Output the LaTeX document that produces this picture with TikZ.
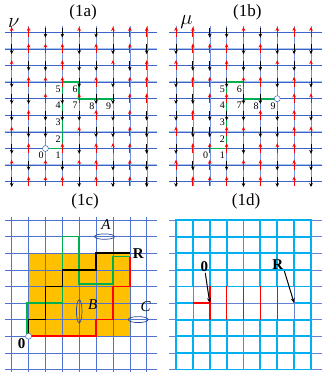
\documentclass[tikz,border=0pt]{standalone}
\usepackage{fontspec}
\setmainfont{Liberation Serif}
\usetikzlibrary{arrows.meta}
\definecolor{gridblue}{RGB}{60,100,200}
\definecolor{gridhalo}{RGB}{170,195,235}
\definecolor{spinred}{RGB}{255,0,0}
\definecolor{pathgreen}{RGB}{0,176,80}
\definecolor{boxorange}{RGB}{255,192,0}
\definecolor{latticecyan}{RGB}{0,176,240}
\definecolor{loopblue}{RGB}{45,75,155}
\tikzset{
  hline/.style={gridblue,line width=0.45pt,preaction={draw=gridhalo,line width=1.4pt}},
  vline/.style={gridblue!70,line width=0.4pt},
  cline/.style={gridblue!90,line width=0.6pt},
  upspin/.style={spinred,line width=0.9pt,-{Stealth[length=4pt,width=3.6pt]}},
  downspin/.style={black,line width=0.9pt,-{Stealth[length=4pt,width=3.6pt]}},
  hole/.style={gridblue,fill=white,line width=0.5pt},
  sitenum/.style={font=\fontsize{10}{10}\selectfont,inner sep=0.5pt,anchor=north east,xshift=-1pt,yshift=-3pt},
  paneltitle/.style={font=\fontsize{17}{17}\selectfont},
  walk/.style={line width=1.5pt},
  loopring/.style={loopblue,line width=0.7pt},
  letter/.style={font=\fontsize{15}{15}\selectfont\itshape},
  boldlabel/.style={font=\fontsize{15}{15}\selectfont\bfseries,inner sep=1pt},
  bond/.style={latticecyan,line width=1.8pt,line cap=rect},
  thinline/.style={gridblue!80,line width=0.5pt},
  cut/.style={spinred,line width=1.5pt},
  pointer/.style={black,line width=1pt,-{Stealth[length=5pt,width=4pt]}},
}
% one arrow per site: 1 up, 0 down, 2 empty
\newcommand{\drawspins}[1]{%
  \foreach \yy/\rowlist in {#1} {
    \foreach \spin [count=\xx from 0] in \rowlist {
      \ifnum\spin=1 \draw[upspin] (\xx,\yy+0.27) -- (\xx,\yy-0.32);\fi
      \ifnum\spin=0 \draw[downspin] (\xx,\yy-0.27) -- (\xx,\yy+0.32);\fi
    }
  }%
}
\begin{document}
\begin{tikzpicture}[x=16.875pt,y=-16.6pt]
  \useasboundingbox (-11.7pt,32.3pt) rectangle (320.3pt,-348.7pt);

  % (1a)
  \foreach \yy in {0,...,9} \draw[hline] (-0.4,\yy) -- (8.6,\yy);
  \foreach \xx in {0,...,8} \draw[vline] (\xx,-0.4) -- (\xx,9.25);
  \coordinate (a0) at (2,7);
  \coordinate (a9) at (6,4);
  \draw[pathgreen,line width=1.6pt] (a0) -- (3,7) -- (3,3) -- (4,3) -- (4,4) -- (a9);
  \drawspins{0/{1,1,0,0,1,0,1,1,1}, 1/{0,1,1,1,0,1,0,1,0}, 2/{1,0,0,1,0,0,1,0,1},
    3/{0,1,1,1,0,1,0,1,1}, 4/{0,0,1,0,1,0,0,1,1}, 5/{0,1,0,0,0,1,0,1,0},
    6/{1,0,0,2,1,0,0,1,0}, 7/{0,1,2,1,0,1,1,1,0}, 8/{1,0,1,0,1,1,0,1,0},
    9/{0,1,1,1,0,1,0,1,0}}
  \draw[hole] (a0) circle (3pt);
  \foreach \xx/\yy/\t in {2/7/0, 3/7/1, 3/6/2, 3/5/3, 3/4/4, 3/3/5, 4/3/6, 4/4/7, 5/4/8, 6/4/9}
    \node[sitenum] at (\xx,\yy) {\t};
  \node[paneltitle] (ta) at (4.23,-1.22) {(1a)};
  \node[font=\fontsize{20}{20}\selectfont] (nu) at (0.12,-0.55) {$\nu$};

  % (1b)
  \begin{scope}[xshift=164.3pt]
    \foreach \yy in {0,...,9} \draw[hline] (-0.4,\yy) -- (8.67,\yy);
    \foreach \xx in {0,...,8} \draw[vline] (\xx,-0.4) -- (\xx,9.25);
    \coordinate (b0) at (2,7);
    \coordinate (b9) at (6,4);
    \draw[pathgreen,line width=1.6pt] (b0) -- (3,7) -- (3,3) -- (4,3) -- (4,4) -- (b9);
    \drawspins{0/{1,1,0,0,1,0,1,1,1}, 1/{0,1,1,1,0,1,0,0,0}, 2/{1,0,0,1,0,0,1,0,1},
      3/{0,1,1,0,1,1,0,1,0}, 4/{0,0,1,1,0,0,2,1,1}, 5/{0,1,0,0,0,1,0,1,0},
      6/{1,0,0,1,1,0,0,1,1}, 7/{0,1,1,1,0,1,1,1,0}, 8/{1,0,1,0,1,1,0,1,0},
      9/{0,1,1,1,0,1,0,1,0}}
    \draw[hole] (b9) circle (3pt);
    \foreach \xx/\yy/\t in {2/7/0, 3/7/1, 3/6/2, 3/5/3, 3/4/4, 3/3/5, 4/3/6, 4/4/7, 5/4/8, 6/4/9}
      \node[sitenum] at (\xx,\yy) {\t};
    \node[paneltitle] (tb) at (4.23,-1.22) {(1b)};
    \node[font=\fontsize{20}{20}\selectfont] (mu) at (0.62,-0.6) {$\mu$};
  \end{scope}

  % (1c)
  \begin{scope}[yshift=-187.7pt]
    \fill[boxorange] (1,2) rectangle (7,7);
    \foreach \yy in {0,...,9} \draw[cline] (-0.4,\yy) -- (8.6,\yy);
    \foreach \xx in {0,...,8} \draw[cline] (\xx,-0.2) -- (\xx,9.15);
    \coordinate (c0) at (1,7);
    \coordinate (cR) at (7,2);
    \draw[walk,pathgreen] (c0) ++(-0.1,0) |- (3,5) |- (4,1) |- (6,3.85) |- (7,2.2);
    \draw[walk,spinred] (c0) -| (5,6) -| (6,4) -| (7,2.2);
    \draw[walk,black] (c0) |- (2,6) |- (3,4) |- (5,3) |- (cR);
    \draw[loopring] (5.5,1) ellipse [x radius=10pt,y radius=2.7pt];
    \draw[loopring] (4,5.5) ellipse [x radius=2.8pt,y radius=11.5pt];
    \draw[loopring] (7.5,6) ellipse [x radius=10pt,y radius=3pt];
    \node[letter] (lA) at (5.59,0.3) {A};
    \node[letter] (lB) at (4.8,5.12) {B};
    \node[letter] (lC) at (7.94,5.22) {C};
    \node[boldlabel] (lRc) at (7.5,2) {R};
    \node[boldlabel] (l0c) at (0.59,7.47) {0};
    \draw[hole] (c0) circle (3pt);
    \node[paneltitle] (tc) at (4.35,-1.1) {(1c)};
  \end{scope}

  % (1d)
  \begin{scope}[xshift=164.3pt,yshift=-187.7pt]
    \foreach \yy in {0,...,9} \draw[thinline] (-0.4,\yy) -- (8.67,\yy);
    \foreach \xx in {0,8} \draw[bond] (\xx,0) -- (\xx,9);
    \foreach \xx in {1,...,7} \draw[bond] (\xx,0) -- (\xx,4) (\xx,6) -- (\xx,9);
    \foreach \yy in {0,1,2,3,6,7,8,9} \draw[bond] (0,\yy) -- (8,\yy);
    \draw[bond] (0,4) -- (1,4) (2,4) -- (8,4) (0,5) -- (1,5) (7,5) -- (8,5);
    \draw[thinline] (1,4) -- (2,4) (1,4) -- (1,6) (7,4) -- (7,6) (2,5) -- (7,5);
    \foreach \xx in {2,...,6} \draw[cut] (\xx,4) -- (\xx,6);
    \draw[cut] (1,5) -- (2,5);
    \coordinate (d0) at (2,5);
    \coordinate (dR) at (7,5);
    \node[boldlabel] (l0d) at (1.68,2.81) {0};
    \node[boldlabel] (lRd) at (6.03,2.71) {R};
    \draw[pointer] (l0d) -- (d0);
    \draw[pointer] (lRd.south east) -- (dR);
    \node[paneltitle] (td) at (4.15,-1.1) {(1d)};
  \end{scope}
\end{tikzpicture}
\end{document}
